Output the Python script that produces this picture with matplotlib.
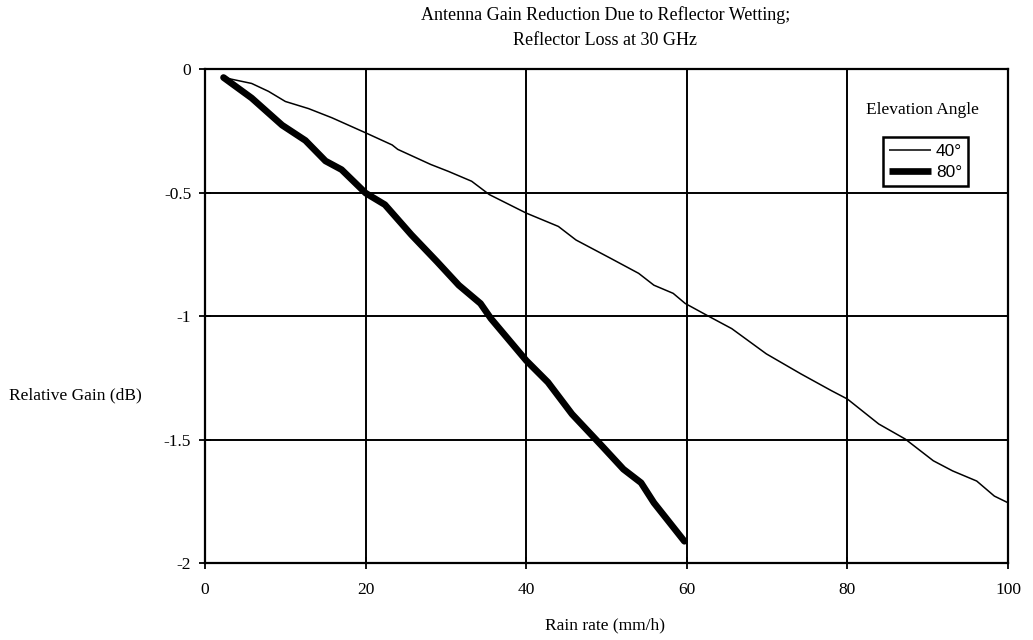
import matplotlib
matplotlib.use("Agg")
import matplotlib.pyplot as plt
import matplotlib.ticker as ticker

# rain rate (mm/h) and relative gain (dB)
rain_40 = [2.3, 5.8, 7.9, 10.0, 12.9, 15.8, 20.0, 23.3, 24.0, 28.1, 30.3, 33.2, 35.4,
           40.0, 44.0, 46.2, 50.5, 54.0, 55.9, 58.3, 59.8, 62.9, 65.6, 69.9, 74.2,
           78.0, 80.0, 83.9, 87.2, 90.7, 93.1, 96.1, 98.3, 100.0]
gain_40 = [-0.034, -0.058, -0.09, -0.131, -0.16, -0.197, -0.258, -0.307, -0.325, -0.386,
           -0.414, -0.454, -0.508, -0.583, -0.637, -0.692, -0.766, -0.827, -0.875,
           -0.908, -0.949, -1.004, -1.051, -1.153, -1.234, -1.302, -1.336, -1.437,
           -1.498, -1.586, -1.627, -1.668, -1.729, -1.756]

rain_80 = [2.3, 5.8, 9.6, 12.5, 15.0, 17.0, 20.0, 22.4, 25.7, 28.9, 31.6, 34.3, 35.6,
           40.0, 42.7, 45.7, 49.4, 52.1, 54.3, 55.9, 59.7]
gain_80 = [-0.034, -0.117, -0.227, -0.289, -0.372, -0.407, -0.502, -0.549, -0.671,
           -0.780, -0.875, -0.949, -1.010, -1.180, -1.268, -1.397, -1.525, -1.620,
           -1.675, -1.756, -1.912]

x_ticks = [0, 20, 40, 60, 80, 100]
y_ticks = [0, -0.5, -1, -1.5, -2]
y_labels = ["0", "-0.5", "-1", "-1.5", "-2"]

plt.rcParams["font.family"] = ["Liberation Serif", "DejaVu Serif"]

fig = plt.figure(figsize=(10.33, 6.4), dpi=100)
ax = fig.add_axes([0.1985, 0.1203, 0.7773, 0.7717])

ax.plot(rain_40, gain_40, color="black", lw=1.1, label="40°")
ax.plot(rain_80, gain_80, color="black", lw=4.8, solid_capstyle="round",
        solid_joinstyle="round", label="80°")

ax.set_xlim(0, 100)
ax.set_ylim(-2, 0)
ax.set_xticks(x_ticks)
ax.set_yticks(y_ticks)
ax.yaxis.set_major_formatter(ticker.FixedFormatter(y_labels))
ax.grid(True, color="black", lw=1.4)
for s in ax.spines.values():
    s.set_linewidth(1.6)
ax.tick_params(direction="inout", length=8, width=1.3, labelsize=12.5, pad=6)
ax.tick_params(axis="x", pad=10)

fig.text(0.586, 0.976, "Antenna Gain Reduction Due to Reflector Wetting;",
         ha="center", va="center", fontsize=13)
fig.text(0.586, 0.937, "Reflector Loss at 30 GHz", ha="center", va="center", fontsize=13)
fig.text(0.586, 0.023, "Rain rate (mm/h)", ha="center", va="center", fontsize=12.5)
fig.text(0.009, 0.382, "Relative Gain (dB)", ha="left", va="center", fontsize=12.5)

fig.text(0.8927, 0.828, "Elevation Angle", ha="center", va="center", fontsize=12.5)
leg = ax.legend(loc="lower left", bbox_to_anchor=(883 / 1033, 1 - 186 / 640),
                bbox_transform=fig.transFigure, frameon=True, fancybox=False,
                edgecolor="black", framealpha=1, handlelength=2.4, handletextpad=0.3,
                borderpad=0.35, borderaxespad=0, labelspacing=0.35,
                prop={"family": "Liberation Sans", "size": 12.5})
leg.get_frame().set_linewidth(1.8)
for h in leg.get_lines():
    h.set_solid_capstyle("butt")

plt.savefig("out.png", dpi=100)
